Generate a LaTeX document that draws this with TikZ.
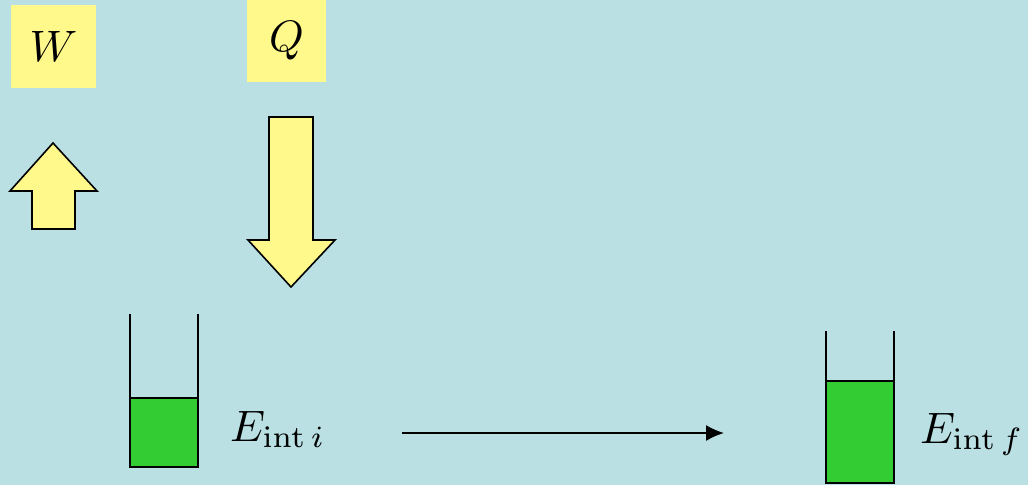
\documentclass[tikz,border=0pt]{standalone}
\usepackage{graphicx}
\usepackage{amsmath}
\usetikzlibrary{arrows.meta}
\definecolor{bg}{HTML}{BAE0E3}
\definecolor{ylw}{HTML}{FFF98B}
\definecolor{grn}{HTML}{33CC33}
\newcommand{\bigtxt}[1]{\scalebox{4.4}{#1}}
\begin{document}
\begin{tikzpicture}[x=1pt,y=-1pt,
  lbl/.style={fill=ylw,inner sep=0pt},
  bigarrow/.style={draw=black,fill=ylw,line width=1.6pt,line join=miter},
  wall/.style={draw=black,line width=1.6pt},
  liquid/.style={draw=black,fill=grn,line width=1.6pt},
  elabel/.style={anchor=base west,inner sep=0pt},
  flow/.style={draw=black,line width=1.6pt,-{Latex[length=18pt,width=16pt]}}]
\fill[bg] (0,0) rectangle (1028,485);
\useasboundingbox (0,0) rectangle (1028,485);
% labels
\node[lbl,minimum width=85pt,minimum height=83pt] (W) at (53.5,46.5) {\bigtxt{$W$}};
\node[lbl,minimum width=79pt,minimum height=82pt] (Q) at (286.5,41) {\bigtxt{$Q$}};
% up arrow (work)
\draw[bigarrow] (53,143) -- (97,191) -- (75,191) -- (75,229) -- (32,229) -- (32,191) -- (10,191) -- cycle;
% down arrow (heat)
\draw[bigarrow] (269,117) -- (313,117) -- (313,240) -- (335,240) -- (291,287) -- (248,240) -- (269,240) -- cycle;
% left beaker
\draw[liquid] (130,398) rectangle (198,467);
\draw[wall] (130,314) -- (130,398);
\draw[wall] (198,314) -- (198,398);
\node[elabel] (Ei) at (230,441) {\bigtxt{$E_{\mathrm{int}\,i}$}};
% right beaker
\draw[liquid] (826,381) rectangle (894,483);
\draw[wall] (826,331) -- (826,381);
\draw[wall] (894,331) -- (894,381);
\node[elabel] (Ef) at (920,443) {\bigtxt{$E_{\mathrm{int}\,f}$}};
% process arrow
\coordinate (a0) at (402,433);
\coordinate (a1) at (724,433);
\draw[flow] (a0) -- (a1);
\end{tikzpicture}
\end{document}
